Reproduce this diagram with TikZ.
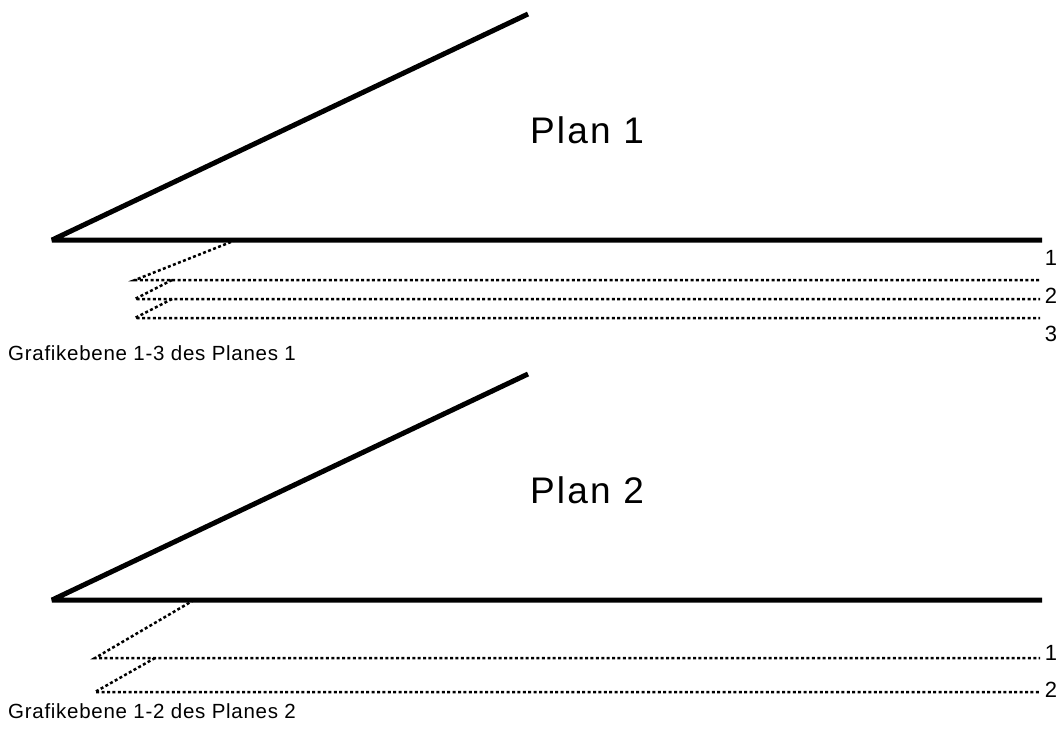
\documentclass[tikz,border=0pt]{standalone}
\usepackage{fontspec}
\setmainfont{Liberation Sans}
\begin{document}
\begin{tikzpicture}[x=1pt,y=-1pt,
  thickline/.style={line width=5pt,line cap=butt,line join=bevel},
  layerline/.style={line width=2.5pt,dash pattern=on 3pt off 2.4pt},
  title/.style={font=\fontsize{37}{42}\selectfont\addfontfeature{LetterSpace=6},inner sep=0pt},
  caption/.style={font=\fontsize{20.5}{24}\selectfont\addfontfeature{LetterSpace=3.5},anchor=base west,inner sep=0pt},
  num/.style={font=\fontsize{22}{26}\selectfont,inner sep=0pt}]
\useasboundingbox (0,0) rectangle (1061,740);

% ---- Plan 1 ----
\coordinate (a0) at (52,240);
\coordinate (a1) at (528,14);
\coordinate (a2) at (1042,240);
\draw[thickline] (a1) -- (a0) -- (a2);
\node[title] (p1) at (587,130) {Plan 1};

\coordinate (l1s) at (135,280); \coordinate (l1e) at (1040,280);
\coordinate (l2s) at (135,299); \coordinate (l2e) at (1040,299);
\coordinate (l3s) at (135,318); \coordinate (l3e) at (1040,318);
\coordinate (k1) at (236,240);
\coordinate (k2) at (172,280);
\coordinate (k3) at (172,299);
\draw[layerline] (k1) -- (l1s) -- (l1e);
\draw[layerline] (k2) -- (l2s) -- (l2e);
\draw[layerline] (k3) -- (l3s) -- (l3e);
\node[num] (n11) at (1051,258) {1};
\node[num] (n12) at (1051,296) {2};
\node[num] (n13) at (1051,334) {3};
\node[caption] (c1) at (8,360) {Grafikebene 1-3 des Planes 1};

% ---- Plan 2 ----
\coordinate (b0) at (52,600);
\coordinate (b1) at (528,374);
\coordinate (b2) at (1042,600);
\draw[thickline] (b1) -- (b0) -- (b2);
\node[title] (p2) at (587,490) {Plan 2};

\coordinate (m1s) at (95,658); \coordinate (m1e) at (1040,658);
\coordinate (m2s) at (95,692); \coordinate (m2e) at (1040,692);
\coordinate (j1) at (194,600);
\coordinate (j2) at (155,658);
\draw[layerline] (j1) -- (m1s) -- (m1e);
\draw[layerline] (j2) -- (m2s) -- (m2e);
\node[num] (n21) at (1051,653) {1};
\node[num] (n22) at (1051,690) {2};
\node[caption] (c2) at (8,718) {Grafikebene 1-2 des Planes 2};
\end{tikzpicture}
\end{document}
